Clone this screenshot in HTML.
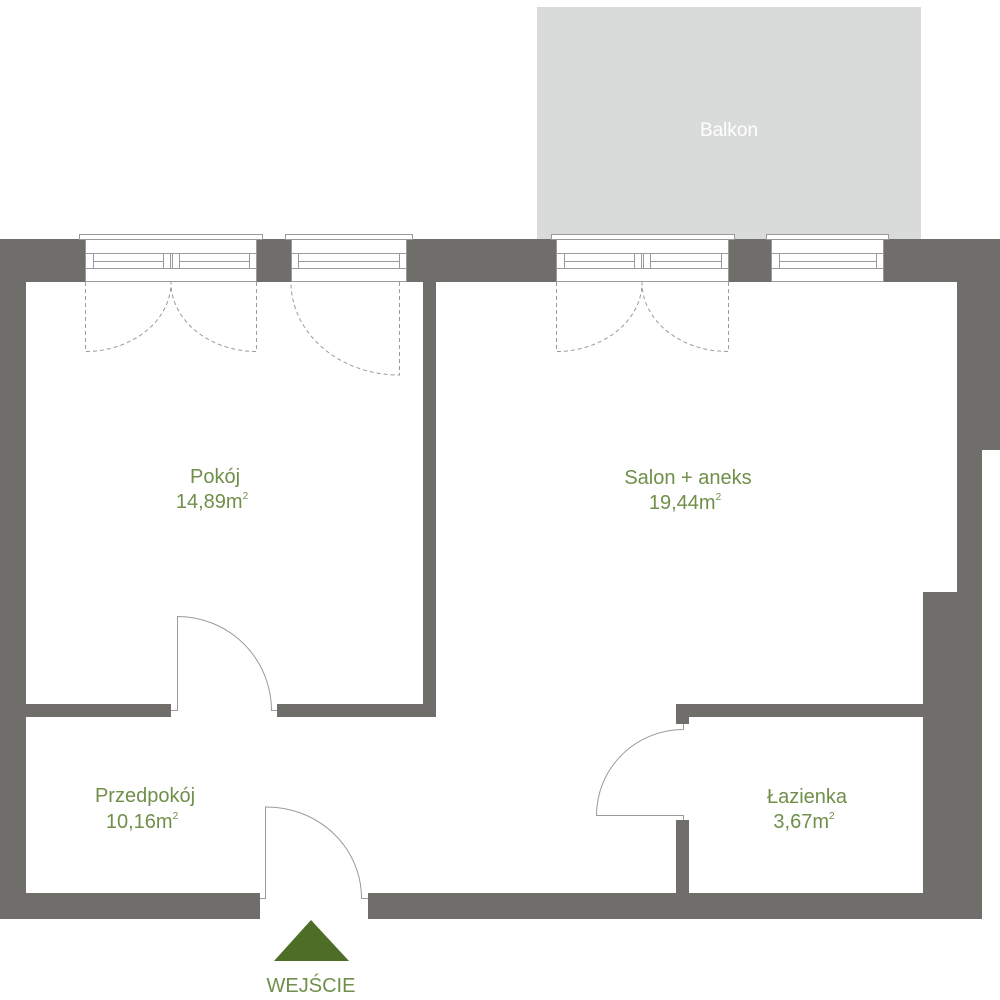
<!DOCTYPE html>
<html><head><meta charset="utf-8"><style>
html,body{margin:0;padding:0;background:#fff;width:1000px;height:1000px;overflow:hidden}
text{font-family:"Liberation Sans",sans-serif}
</style></head><body>
<svg width="1000" height="1000" viewBox="0 0 1000 1000" xmlns="http://www.w3.org/2000/svg">
<rect x="537" y="7" width="384" height="232" fill="#d9dbda"/>
<text x="729" y="136" font-size="19" fill="#fff" text-anchor="middle">Balkon</text>
<g fill="#706e6b">
<rect x="0" y="239" width="85" height="43"/>
<rect x="257" y="239" width="34" height="43"/>
<rect x="406" y="239" width="150" height="43"/>
<rect x="729" y="239" width="42" height="43"/>
<rect x="883" y="239" width="117" height="43"/>
<rect x="957" y="239" width="43" height="211"/>
<rect x="957" y="282" width="25" height="637"/>
<rect x="923" y="592" width="59" height="327"/>
<rect x="0" y="239" width="26" height="680"/>
<rect x="0" y="893" width="260" height="26"/>
<rect x="368" y="893" width="614" height="26"/>
<rect x="423" y="282" width="13" height="435"/>
<rect x="26" y="704" width="145" height="13"/>
<rect x="277" y="704" width="159" height="13"/>
<rect x="676" y="704" width="247" height="13"/>
<rect x="676" y="704" width="13" height="20"/>
<rect x="676" y="820" width="13" height="73"/>
</g>
<g fill="#fff" stroke="#9a9a9a" stroke-width="1">
<rect x="79.5" y="234.5" width="183" height="5"/>
<rect x="85.5" y="239.5" width="171" height="42"/>
<rect x="285.5" y="234.5" width="127" height="5"/>
<rect x="291.5" y="239.5" width="115" height="42"/>
<rect x="551.5" y="234.5" width="183" height="5"/>
<rect x="556.5" y="239.5" width="172" height="42"/>
<rect x="766.5" y="234.5" width="122" height="5"/>
<rect x="771.5" y="239.5" width="112" height="42"/>
</g>
<g stroke="#9a9a9a" stroke-width="1" fill="none">
<path d="M86 253.5H256M86 268.5H256M93 261.5H163M179 261.5H249M93.5 253v15M163.5 253v15M170.5 253v15M172.5 253v15M179.5 253v15M249.5 253v15"/>
<path d="M292 253.5H406M292 268.5H406M298 261.5H399M298.5 253v15M399.5 253v15"/>
<path d="M557 253.5H728M557 268.5H728M564 261.5H634M650 261.5H721M564.5 253v15M634.5 253v15M641.5 253v15M643.5 253v15M650.5 253v15M721.5 253v15"/>
<path d="M772 253.5H883M772 268.5H883M779 261.5H876M779.5 253v15M876.5 253v15"/>
</g>
<g stroke="#9a9a9a" stroke-width="1" fill="none" stroke-dasharray="4 3">
<path d="M85.5 282V351.5A86 69 0 0 0 171 282"/>
<path d="M256.5 282V351.5A86 69 0 0 1 171 282"/>
<path d="M399.5 282V375A108 93 0 0 1 291 282"/>
<path d="M556.5 282V351.5A86 69 0 0 0 642 282"/>
<path d="M728.5 282V351.5A86 69 0 0 1 642 282"/>
</g>
<g stroke="#9a9a9a" stroke-width="1" fill="none">
<path d="M171 710.5H177.5V616.5A94 94 0 0 1 271.5 710.5H277"/>
<path d="M260 898.5H265.5V807A95 91 0 0 1 361.5 898.5H368"/>
<path d="M683.5 724V729.5A87 86 0 0 0 596.5 815.5H683.5V820"/>
</g>
<g fill="#6f8f4a" font-size="20" text-anchor="middle">
<text x="215" y="483">Pokój</text>
<text x="212" y="508">14,89m<tspan font-size="10" dy="-9">2</tspan></text>
<text x="688" y="484">Salon + aneks</text>
<text x="685" y="509">19,44m<tspan font-size="10" dy="-9">2</tspan></text>
<text x="145" y="802">Przedpokój</text>
<text x="142" y="828">10,16m<tspan font-size="10" dy="-9">2</tspan></text>
<text x="807" y="803">Łazienka</text>
<text x="804" y="828">3,67m<tspan font-size="10" dy="-9">2</tspan></text>
<text x="311" y="992">WEJŚCIE</text>
</g>
<polygon points="274,961 349,961 311,920" fill="#4e6e27"/>
</svg>
</body></html>
